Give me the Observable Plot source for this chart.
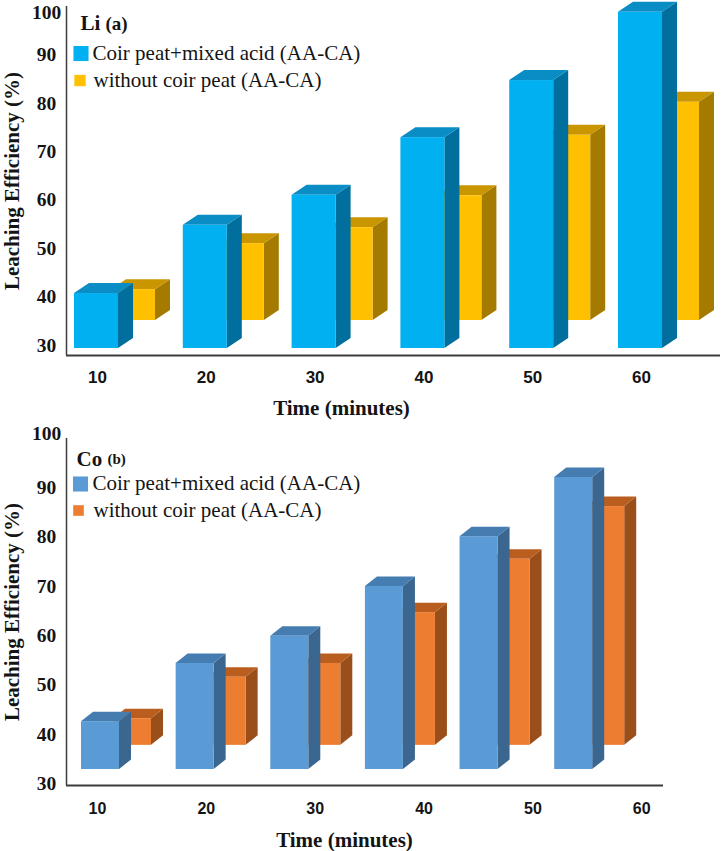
<!DOCTYPE html>
<html>
<head>
<meta charset="utf-8">
<script src="https://cdn.jsdelivr.net/npm/d3@7"></script>
<script src="https://cdn.jsdelivr.net/npm/@observablehq/plot@0.6"></script>
<style>
  body { margin: 0; background: #fff; }
  #chart { width: 722px; }
  #chart svg { display: block; }
</style>
</head>
<body>
<div id="chart"></div>
<script>
// Leaching time (minutes) and value-axis ticks
const times = [10, 20, 30, 40, 50, 60];
const yTicks = [30, 40, 50, 60, 70, 80, 90];
const yTopTick = [100];
const seriesNames = ["Coir peat+mixed acid (AA-CA)", "without coir peat (AA-CA)"];

// Leaching efficiency (%) per time step
const liWithCoir = [40.7, 54.8, 61.0, 72.9, 84.7, 98.8];
const liWithout  = [41.5, 51.0, 54.3, 60.9, 73.4, 80.2];
const coWithCoir = [42.6, 54.4, 59.9, 70.0, 80.1, 92.1];
const coWithout  = [43.2, 51.6, 54.4, 64.7, 75.5, 86.2];

const serif = "Liberation Serif, Times New Roman, serif";
const sans = "Liberation Sans, Arial, sans-serif";
const ink = "#141414";

// Draws one pseudo-3D column panel: each column is a front rect plus a
// slanted top face and a shaded side face, all placed through the x/y scales.
function panel(cfg) {
  const width = 722, marginLeft = 66;
  const {height, marginTop, marginBottom, marginRight, xDomain, yDomain} = cfg;
  const kx = (width - marginLeft - marginRight) / (xDomain[1] - xDomain[0]);
  const ky = (height - marginTop - marginBottom) / (yDomain[1] - yDomain[0]);
  const halfW = cfg.barWidth / 2 / kx;
  const ddx = cfg.depth[0] / kx;
  const ddy = cfg.depth[1] / ky;
  // column centres along the time axis (columns may be packed tighter than ticks)
  const slot = t => times[0] + (t - times[0]) * cfg.pitch + cfg.shift / kx;

  const marks = [];
  // back row first so the front row overlaps it
  cfg.series.slice().reverse().forEach(s => {
    const bars = times.map((t, i) => {
      const c = slot(t);
      return {id: i, xl: c - halfW, xr: c + halfW, v: s.values[i], base: s.floor};
    });
    const side = bars.flatMap(b => [
      {id: b.id, x: b.xr, y1: b.base, y2: b.v},
      {id: b.id, x: b.xr + ddx, y1: b.base + ddy, y2: b.v + ddy}
    ]);
    const top = bars.flatMap(b => [
      {id: b.id, y: b.v, x1: b.xl, x2: b.xr},
      {id: b.id, y: b.v + ddy, x1: b.xl + ddx, x2: b.xr + ddx}
    ]);
    marks.push(Plot.areaY(side, {x: "x", y1: "y1", y2: "y2", z: "id", fill: s.colors.side, dx: s.offset}));
    marks.push(Plot.areaX(top, {y: "y", x1: "x1", x2: "x2", z: "id", fill: s.colors.top, dx: s.offset}));
    marks.push(Plot.rect(bars, {x1: "xl", x2: "xr", y1: "base", y2: "v", fill: s.colors.front, dx: s.offset}));
  });

  // axis lines
  marks.push(Plot.ruleX([xDomain[0]], {stroke: "#3c3c3c", strokeWidth: 1.5}));
  marks.push(Plot.ruleY([yDomain[0]], {stroke: "#3c3c3c", strokeWidth: 2}));

  const yAxisText = {
    tickSize: 0, tickPadding: 20, textAnchor: "middle", label: null,
    fontFamily: serif, fontWeight: "bold", fontSize: 19.5, fill: ink
  };
  marks.push(Plot.axisY(yTicks, yAxisText));
  marks.push(Plot.axisY(yTopTick, {...yAxisText, dy: cfg.topTickDy}));
  marks.push(Plot.axisX(times, {
    tickSize: 0, tickPadding: cfg.xTickPadding, label: null,
    fontFamily: sans, fontWeight: "bold", fontSize: cfg.xTickSize, fill: ink
  }));

  // axis titles
  marks.push(Plot.text(["Time (minutes)"], {
    frameAnchor: "bottom", textAnchor: "middle", lineAnchor: "middle",
    dx: cfg.xTitle[0], dy: cfg.xTitle[1],
    fontFamily: serif, fontWeight: "bold", fontSize: 21, fill: ink
  }));
  marks.push(Plot.text(["Leaching Efficiency (%)"], {
    frameAnchor: "left", textAnchor: "middle", lineAnchor: "middle", rotate: -90, dx: -54,
    fontFamily: serif, fontWeight: "bold", fontSize: 21, fill: ink
  }));

  // panel title
  marks.push(Plot.text([cfg.element], {
    frameAnchor: "top-left", textAnchor: "start", lineAnchor: "middle",
    dx: cfg.titlePos[0], dy: cfg.titlePos[1],
    fontFamily: serif, fontWeight: "bold", fontSize: 21, fill: ink
  }));
  marks.push(Plot.text([cfg.tag], {
    frameAnchor: "top-left", textAnchor: "start", lineAnchor: "middle",
    dx: cfg.tagPos[0], dy: cfg.tagPos[1],
    fontFamily: serif, fontWeight: "bold", fontSize: cfg.tagSize, fill: ink
  }));

  // legend
  cfg.series.forEach((s, i) => {
    const row = cfg.legend[i];
    marks.push(Plot.dot([s.name], {
      frameAnchor: "top-left", dx: row.sx, dy: row.sy, symbol: "square",
      r: row.r, fill: s.colors.front, stroke: "none"
    }));
    marks.push(Plot.text([s.name], {
      frameAnchor: "top-left", textAnchor: "start", lineAnchor: "middle",
      dx: row.tx, dy: row.ty,
      fontFamily: serif, fontSize: 21, fill: ink
    }));
  });

  return Plot.plot({
    width, height, marginLeft, marginRight, marginTop, marginBottom,
    style: {background: "#fff", overflow: "visible"},
    x: {type: "linear", domain: xDomain},
    y: {type: "linear", domain: yDomain},
    marks
  });
}

const panelLi = panel({
  element: "Li", tag: "(a)", tagSize: 19,
  height: 420, marginTop: 6, marginBottom: 65, marginRight: 2,
  xDomain: [7.151, 67.261], yDomain: [27.9, 100],
  barWidth: 44, depth: [15, 10], pitch: 1, shift: -1, topTickDy: 6,
  xTickPadding: 15, xTickSize: 17, xTitle: [-52, 53],
  titlePos: [14, 17], tagPos: [39, 17],
  legend: [
    {sx: 14.5, sy: 47, r: 8.5, tx: 26, ty: 47},
    {sx: 13.5, sy: 74, r: 6.4, tx: 27, ty: 74}
  ],
  series: [
    {name: seriesNames[0], values: liWithCoir, floor: 29.35, offset: 0,
     colors: {front: "#00B0F0", top: "#0A8CC4", side: "#006F9D"}},
    {name: seriesNames[1], values: liWithout, floor: 35.13, offset: 37,
     colors: {front: "#FFC000", top: "#C99600", side: "#A47B00"}}
  ]
});

const panelCo = panel({
  element: "Co", tag: "(b)", tagSize: 15,
  height: 431, marginTop: 18, marginBottom: 66, marginRight: 59,
  xDomain: [7.151, 62.0], yDomain: [29.66, 100],
  barWidth: 38, depth: [12, 9.5], pitch: 0.8695, shift: 3, topTickDy: -5,
  xTickPadding: 17, xTickSize: 16, xTitle: [-20.5, 55],
  titlePos: [10, 20.5], tagPos: [41, 21],
  legend: [
    {sx: 14, sy: 45.5, r: 8.5, tx: 26, ty: 45},
    {sx: 12, sy: 72, r: 6, tx: 27, ty: 72}
  ],
  series: [
    {name: seriesNames[0], values: coWithCoir, floor: 32.9, offset: 0,
     colors: {front: "#5B9BD5", top: "#467DB0", side: "#3A6690"}},
    {name: seriesNames[1], values: coWithout, floor: 37.8, offset: 32,
     colors: {front: "#ED7D31", top: "#B95E1F", side: "#9A4F1A"}}
  ]
});

const root = document.getElementById("chart");
root.appendChild(panelLi);
root.appendChild(panelCo);
</script>
</body>
</html>
